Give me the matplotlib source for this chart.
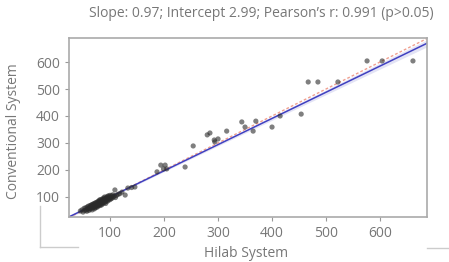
import numpy as np
import matplotlib.pyplot as plt
from matplotlib.lines import Line2D

plt.rcParams['font.family'] = ['Open Sans', 'DejaVu Sans']

# hilab (x) vs conventional (y) readings
hilab = [45, 48, 50, 52, 53, 55, 56, 57, 58, 59, 60, 60, 61, 62, 63, 63, 64, 65, 65, 66,
         67, 67, 68, 68, 69, 70, 70, 71, 71, 72, 72, 73, 73, 74, 74, 75, 75, 76, 76, 77,
         77, 78, 78, 79, 79, 80, 80, 81, 81, 82, 82, 83, 83, 84, 84, 85, 85, 86, 86, 87,
         87, 88, 88, 89, 89, 90, 90, 91, 91, 92, 92, 93, 93, 94, 95, 95, 96, 97, 97, 98,
         99, 100, 100, 101, 102, 103, 104, 105, 106, 108, 110, 112, 115, 109, 118,
         122, 128, 133, 140, 146,
         187, 194, 202, 199, 205, 239, 254, 280, 285, 293, 300, 294, 316, 344, 350, 365,
         370, 400, 415, 454, 467, 485, 522, 576, 604, 661]
conventional = [48, 52, 44, 58, 50, 60, 52, 47, 63, 55, 58, 66, 50, 60, 68, 55, 62, 58, 70, 64,
                52, 72, 66, 60, 74, 68, 62, 56, 76, 70, 64, 78, 60, 72, 67, 80, 70, 62, 75, 82,
                68, 74, 66, 84, 78, 72, 88, 76, 68, 82, 90, 74, 80, 86, 70, 92, 78, 84, 74, 90,
                80, 96, 84, 78, 92, 88, 100, 82, 94, 90, 76, 98, 86, 92, 102, 84, 96, 88, 104, 94,
                100, 90, 106, 98, 94, 104, 96, 108, 100, 104, 98, 106, 110, 126, 112,
                118, 107, 133, 135, 137,
                193, 218, 218, 204, 204, 211, 289, 330, 337, 311, 315, 304, 344, 378, 359, 344,
                381, 359, 400, 407, 526, 526, 526, 604, 604, 604]

slope = 0.97
intercept = 2.99
title = "Slope: 0.97; Intercept 2.99; Pearson\u2019s r: 0.991 (p>0.05)"

x = np.array(hilab, float)
y = np.array(conventional, float)

fig = plt.figure(figsize=(4.49, 2.62), dpi=100)
ax = fig.add_axes([0.1537, 0.172, 0.7973, 0.683])

xs = np.linspace(24, 687, 200)
fit = slope * xs + intercept
n = len(x)
res = y - (slope * x + intercept)
s = np.sqrt(np.sum(res ** 2) / (n - 2))
se = s * np.sqrt(1 / n + (xs - x.mean()) ** 2 / np.sum((x - x.mean()) ** 2))
ax.fill_between(xs, fit - 2 * se, fit + 2 * se, color='#c8c8ec', alpha=0.5, lw=0)
ax.plot(xs, xs, color='#f0a090', lw=1.0, ls=(0, (2, 1.5)))
ax.plot(xs, fit, color='#4040c0', lw=1.1)
ax.scatter(x, y, s=14, color='#2a2a2a', alpha=0.6, edgecolors='none', zorder=3)

ax.set_xlim(24, 687)
ax.set_ylim(26, 689)
ax.set_xticks([100, 200, 300, 400, 500, 600])
ax.set_yticks([100, 200, 300, 400, 500, 600])
ax.tick_params(colors='#999999', labelcolor='#777777', labelsize=10, length=3, width=0.8)
for sp in ax.spines.values():
    sp.set_color('#aaaaaa')
    sp.set_linewidth(1.2)

fig.text(0.582, 0.947, title, ha='center', va='center', fontsize=10, color='#777777')
fig.text(0.548, 0.002, 'Hilab System', ha='center', va='bottom', fontsize=10, color='#777777')
fig.text(0.031, 0.50, 'Conventional System', ha='center', va='center', rotation=90,
         fontsize=10, color='#777777')

# offset frame fragments below the axes
lc = '#cccccc'
fig.add_artist(Line2D([40 / 449, 40 / 449], [1 - 206 / 262, 1 - 247 / 262], color=lc, lw=1))
fig.add_artist(Line2D([40 / 449, 78 / 449], [1 - 247 / 262, 1 - 247 / 262], color=lc, lw=1))
fig.add_artist(Line2D([427 / 449, 1.0], [1 - 248 / 262, 1 - 248 / 262], color=lc, lw=1))

fig.savefig('out.png', dpi=100)
